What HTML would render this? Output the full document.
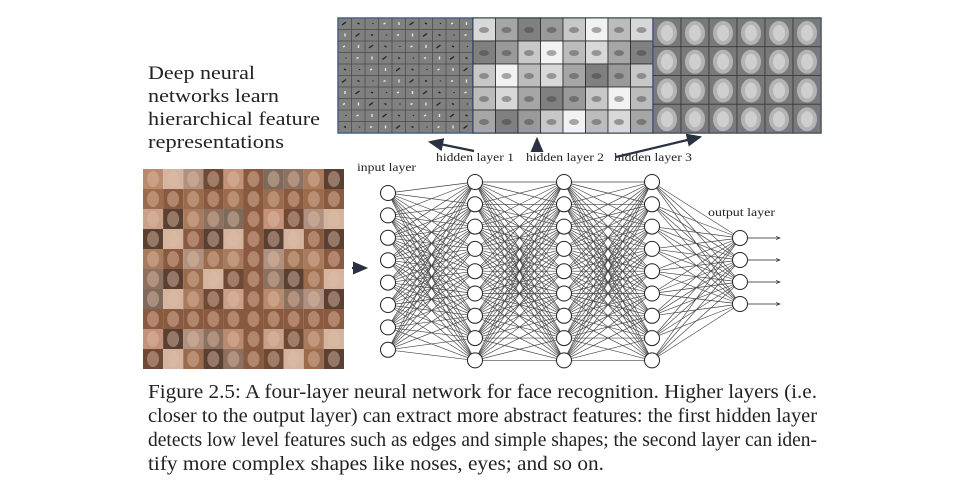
<!DOCTYPE html>
<html><head><meta charset="utf-8">
<style>
html,body{margin:0;padding:0;background:#fff;width:964px;height:488px;overflow:hidden}
svg{display:block}
text{font-family:"Liberation Serif",serif;fill:#222}
</style></head>
<body>
<svg id="fig" width="964" height="488" viewBox="0 0 964 488">
<g id="faces"></g>
<g id="panels"></g>
<g id="edges" stroke="#222" stroke-width="0.65" opacity="0.85"></g>
<g id="nodes"></g>
<g font-size="19">
<text x="148" y="79" textLength="107" lengthAdjust="spacingAndGlyphs">Deep neural</text>
<text x="148" y="102" textLength="131" lengthAdjust="spacingAndGlyphs">networks learn</text>
<text x="148" y="125" textLength="172" lengthAdjust="spacingAndGlyphs">hierarchical feature</text>
<text x="148" y="148" textLength="136" lengthAdjust="spacingAndGlyphs">representations</text>
</g>
<g font-size="12">
<text x="357" y="171" textLength="59" lengthAdjust="spacingAndGlyphs">input layer</text>
<text x="436" y="161" textLength="78" lengthAdjust="spacingAndGlyphs">hidden layer 1</text>
<text x="526" y="161" textLength="78" lengthAdjust="spacingAndGlyphs">hidden layer 2</text>
<text x="614" y="161" textLength="78" lengthAdjust="spacingAndGlyphs">hidden layer 3</text>
<text x="708" y="216" textLength="67" lengthAdjust="spacingAndGlyphs">output layer</text>
</g>
<defs><marker id="ah" markerWidth="8" markerHeight="8" refX="6" refY="3" orient="auto"><path d="M0,0 L7,3 L0,6 z" fill="#2a3140"/></marker>
<marker id="ah2" markerWidth="6" markerHeight="6" refX="5" refY="3" orient="auto"><path d="M0,1 L5,3 L0,5" fill="none" stroke="#222" stroke-width="0.8"/></marker></defs>
<g stroke="#2a3140" stroke-width="2.2">
<line x1="474" y1="151" x2="430" y2="142" marker-end="url(#ah)"/>
<line x1="537" y1="151" x2="537" y2="139" marker-end="url(#ah)"/>
<line x1="616" y1="157" x2="700" y2="137" marker-end="url(#ah)"/>
<line x1="352" y1="268" x2="366" y2="268" marker-end="url(#ah)"/>
</g>
<g id="outs"></g>
<g font-size="19.5">
<text x="148" y="398" textLength="669" lengthAdjust="spacingAndGlyphs">Figure 2.5:  A four-layer neural network for face recognition.  Higher layers (i.e.</text>
<text x="148" y="422" textLength="669" lengthAdjust="spacingAndGlyphs">closer to the output layer) can extract more abstract features: the first hidden layer</text>
<text x="148" y="446" textLength="669" lengthAdjust="spacingAndGlyphs">detects low level features such as edges and simple shapes; the second layer can iden-</text>
<text x="148" y="470" textLength="456" lengthAdjust="spacingAndGlyphs">tify more complex shapes like noses, eyes; and so on.</text>
</g>
</svg>
<script>
const NS="http://www.w3.org/2000/svg";
function mk(t,a,p){const e=document.createElementNS(NS,t);for(const k in a)e.setAttribute(k,a[k]);p.appendChild(e);return e;}
const faces=document.getElementById('faces');
const tones=['#b98a6e','#8a5a40','#c9a08a','#6e4a35','#a87b5f','#d4b49e','#7d6a5c','#9a6b4d','#c4927a','#5a4033','#b09080','#8c7060'];
for(let r=0;r<10;r++)for(let c=0;c<10;c++){
const x=143+c*20.1,y=169+r*20;const col=tones[(r*7+c*5+r*c)%tones.length];
const cell=mk('rect',{x:x,y:y,width:20.1,height:20,fill:col},faces);


mk('ellipse',{cx:x+10,cy:y+10,rx:6,ry:8,fill:'#e0bca4',opacity:0.45},faces);
}
const P=document.getElementById('panels');
const p1=mk('rect',{x:338,y:18,width:135,height:115,fill:'#808080',stroke:'#3a6fb0','stroke-width':1.5},P);

for(let r=0;r<10;r++)for(let c=0;c<10;c++){
const x=338+c*13.5,y=18+r*11.5;
mk('rect',{x:x,y:y,width:13.5,height:11.5,fill:'none',stroke:'#4a4a4a','stroke-width':0.5},P);
const k=(r*13+c*7)%5;
mk('line',{x1:x+4+k,y1:y+7-k%3,x2:x+8-k%2,y2:y+4+k%3,stroke:(k%2?'#e8e8e8':'#222'),'stroke-width':1.3},P);
}
const p2=mk('rect',{x:473,y:18,width:180,height:115,fill:'#9a9a9a',stroke:'#3a6fb0','stroke-width':1.5},P);

const g2=['#d8d8d8','#9a9a9a','#bcbcbc','#808080','#f2f2f2','#a6a6a6','#c8c8c8'];
for(let r=0;r<5;r++)for(let c=0;c<8;c++){
const x=473+c*22.5,y=18+r*23;
mk('rect',{x:x,y:y,width:22.5,height:23,fill:g2[(r*3+c*5)%7],stroke:'#2a2a2a','stroke-width':0.8},P);
mk('ellipse',{cx:x+11,cy:y+12,rx:5,ry:3,fill:'#333',opacity:0.4},P);
}
const p3=mk('rect',{x:653,y:18,width:168,height:115,fill:'#8a8a8a',stroke:'#3a6fb0','stroke-width':1.5},P);

for(let r=0;r<4;r++)for(let c=0;c<6;c++){
const x=653+c*28,y=18+r*28.75;
mk('rect',{x:x,y:y,width:28,height:28.75,fill:'#7a7a7a',stroke:'#3a3a3a','stroke-width':0.8},P);
mk('ellipse',{cx:x+14,cy:y+15,rx:10,ry:12,fill:'#b4b4b4'},P);
mk('ellipse',{cx:x+14,cy:y+15,rx:6,ry:8,fill:'#cfcfcf'},P);
}
const layerX=[388,475,564,652,740];
const layerN=[8,9,9,9,4];
const layerTop=[193,182,182,182,238];
const sp=[22.4,22.3,22.3,22.3,22];
const E=document.getElementById('edges'),N=document.getElementById('nodes');
const pos=layerX.map((x,i)=>Array.from({length:layerN[i]},(_,j)=>[x,layerTop[i]+j*sp[i]]));
for(let l=0;l<4;l++)for(const a of pos[l])for(const b of pos[l+1])mk('line',{x1:a[0],y1:a[1],x2:b[0],y2:b[1]},E);
pos.forEach((L,l)=>L.forEach(p=>{const c=mk('circle',{cx:p[0],cy:p[1],r:7.5,fill:'#fff',stroke:'#222','stroke-width':1},N);
}));
const O=document.getElementById('outs');
for(const p of pos[4])mk('line',{x1:p[0]+8,y1:p[1],x2:p[0]+40,y2:p[1],stroke:'#222','stroke-width':0.8,'marker-end':'url(#ah2)'},O);
</script>
</body></html>
